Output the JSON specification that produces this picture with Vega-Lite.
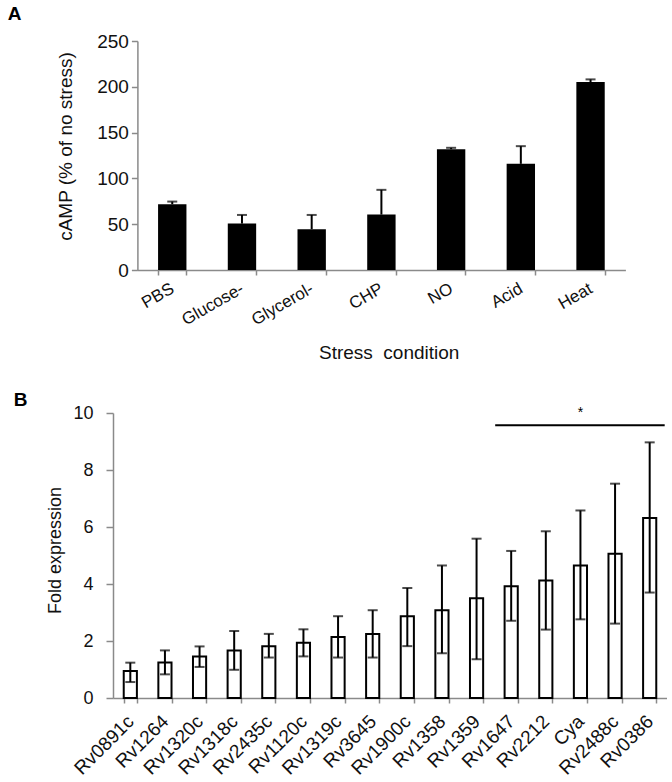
{
  "$schema": "https://vega.github.io/schema/vega-lite/v6.json",
  "padding": {"left": 7, "top": 5, "right": 0, "bottom": 0},
  "background": "white",
  "spacing": 29,
  "config": {
    "font": "Liberation Sans",
    "view": {"stroke": null},
    "axis": {
      "domainColor": "#8a8a8a", "tickColor": "#8a8a8a", "domainWidth": 1.5, "tickWidth": 1.5,
      "labelColor": "#111111", "titleColor": "#111111", "labelFont": "Liberation Sans", "titleFont": "Liberation Sans",
      "titleFontWeight": "normal", "grid": false
    },
    "title": {"font": "Liberation Sans", "fontWeight": "bold", "fontSize": 19, "anchor": "start", "frame": "group", "color": "#000000"}
  },
  "vconcat": [
    {
      "width": 512.4,
      "height": 229,
      "title": {"text": "A", "dx": -105.3, "offset": 8},
      "data": {"values": [
        {"condition": "PBS", "value": 71.8, "upper": 74.7},
        {"condition": "Glucose-", "value": 50.7, "upper": 60.1},
        {"condition": "Glycerol-", "value": 44.5, "upper": 60.1},
        {"condition": "CHP", "value": 60.5, "upper": 87.5},
        {"condition": "NO", "value": 131.9, "upper": 133.4},
        {"condition": "Acid", "value": 115.9, "upper": 135.2},
        {"condition": "Heat", "value": 205.2, "upper": 208.1}
      ]},
      "encoding": {
        "x": {
          "field": "condition", "type": "nominal", "sort": null,
          "scale": {"range": [24.4, 512.4], "paddingInner": 0.593, "paddingOuter": 0.2965},
          "axis": {
            "title": "Stress\u00a0 condition", "labelAngle": -30, "labelAlign": "right", "labelBaseline": "middle",
            "labelFontSize": 17, "labelPadding": 12, "tickBand": "extent", "tickSize": 5,
            "titleFontSize": 19, "titleX": 275.7, "titleY": 82, "titleBaseline": "middle"
          }
        }
      },
      "layer": [
        {
          "mark": {"type": "bar", "color": "#000000"},
          "encoding": {
            "y": {
              "field": "value", "type": "quantitative",
              "scale": {"domain": [0, 250], "nice": false},
              "axis": {
                "values": [0, 50, 100, 150, 200, 250], "title": "cAMP (% of no stress)", "offset": -24.4,
                "labelFontSize": 19, "tickSize": 6, "labelPadding": 3,
                "titleFontSize": 19, "titleX": -71.7, "titleY": 105, "titleBaseline": "middle"
              }
            }
          }
        },
        {
          "mark": {"type": "rule", "color": "#000000", "strokeWidth": 2},
          "encoding": {"y": {"field": "value", "type": "quantitative"}, "y2": {"field": "upper"}}
        },
        {
          "mark": {"type": "tick", "color": "#000000", "thickness": 2, "size": 10},
          "encoding": {"y": {"field": "upper", "type": "quantitative"}}
        }
      ]
    },
    {
      "width": 554,
      "height": 285,
      "title": {"text": "B", "dx": -99.3, "offset": -6},
      "data": {"values": [
        {"gene": "Rv0891c", "value": 0.95, "lower": 0.56, "upper": 1.24},
        {"gene": "Rv1264", "value": 1.25, "lower": 0.83, "upper": 1.67},
        {"gene": "Rv1320c", "value": 1.46, "lower": 1.09, "upper": 1.81},
        {"gene": "Rv1318c", "value": 1.67, "lower": 0.99, "upper": 2.35},
        {"gene": "Rv2435c", "value": 1.82, "lower": 1.42, "upper": 2.25},
        {"gene": "Rv1120c", "value": 1.94, "lower": 1.46, "upper": 2.41},
        {"gene": "Rv1319c", "value": 2.14, "lower": 1.42, "upper": 2.87},
        {"gene": "Rv3645", "value": 2.25, "lower": 1.42, "upper": 3.08},
        {"gene": "Rv1900c", "value": 2.87, "lower": 1.82, "upper": 3.86},
        {"gene": "Rv1358", "value": 3.08, "lower": 1.57, "upper": 4.65},
        {"gene": "Rv1359", "value": 3.5, "lower": 1.36, "upper": 5.59},
        {"gene": "Rv1647", "value": 3.92, "lower": 2.71, "upper": 5.16},
        {"gene": "Rv2212", "value": 4.12, "lower": 2.4, "upper": 5.85},
        {"gene": "Cya", "value": 4.65, "lower": 2.76, "upper": 6.58},
        {"gene": "Rv2488c", "value": 5.06, "lower": 2.61, "upper": 7.52},
        {"gene": "Rv0386", "value": 6.32, "lower": 3.7, "upper": 8.97}
      ]},
      "encoding": {
        "x": {
          "field": "gene", "type": "nominal",
          "scale": {
            "domain": ["Rv0891c", "Rv1264", "Rv1320c", "Rv1318c", "Rv2435c", "Rv1120c", "Rv1319c", "Rv3645", "Rv1900c", "Rv1358", "Rv1359", "Rv1647", "Rv2212", "Cya", "Rv2488c", "Rv0386"],
            "paddingInner": 0.62, "paddingOuter": 0.31
          },
          "axis": {
            "title": null, "labelAngle": -45, "labelAlign": "right", "labelBaseline": "middle",
            "labelFontSize": 19, "labelPadding": 15, "tickBand": "extent", "tickSize": 5
          }
        }
      },
      "layer": [
        {
          "mark": {"type": "bar", "fill": "#ffffff", "stroke": "#000000", "strokeWidth": 2},
          "encoding": {
            "y": {
              "field": "value", "type": "quantitative",
              "scale": {"domain": [0, 10], "nice": false},
              "axis": {
                "values": [0, 2, 4, 6, 8, 10], "title": "Fold expression",
                "labelFontSize": 18, "tickSize": 7, "labelPadding": 13,
                "titleFontSize": 18, "titleX": -57.3, "titleY": 137, "titleBaseline": "middle"
              }
            }
          }
        },
        {
          "mark": {"type": "rule", "color": "#000000", "strokeWidth": 2},
          "encoding": {"y": {"field": "lower", "type": "quantitative"}, "y2": {"field": "upper"}}
        },
        {
          "mark": {"type": "tick", "color": "#000000", "thickness": 2, "size": 10},
          "encoding": {"y": {"field": "lower", "type": "quantitative"}}
        },
        {
          "mark": {"type": "tick", "color": "#000000", "thickness": 2, "size": 10},
          "encoding": {"y": {"field": "upper", "type": "quantitative"}}
        },
        {
          "data": {"values": [{"gene": "Rv1647", "to": "Rv0386", "level": 9.57}]},
          "mark": {"type": "rule", "color": "#000000", "strokeWidth": 2, "xOffset": -16, "x2Offset": 15},
          "encoding": {
            "x2": {"field": "to"},
            "y": {"field": "level", "type": "quantitative"}
          }
        },
        {
          "data": {"values": [{"gene": "Cya", "level": 9.85, "label": "*"}]},
          "mark": {"type": "text", "color": "#000000", "fontSize": 14, "baseline": "alphabetic"},
          "encoding": {
            "y": {"field": "level", "type": "quantitative"},
            "text": {"field": "label"}
          }
        }
      ]
    }
  ]
}
